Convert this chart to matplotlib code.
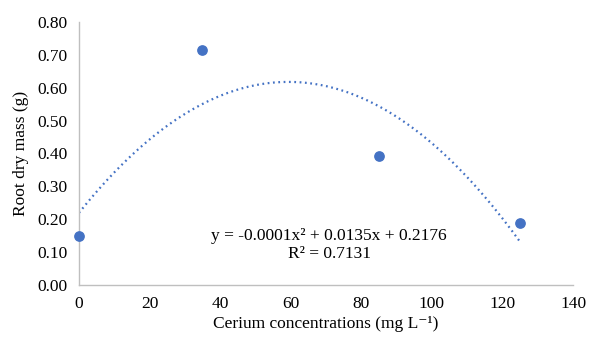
import matplotlib.pyplot as plt
import numpy as np

plt.rcParams['font.family'] = ['Liberation Serif', 'DejaVu Serif']

# cerium concentration (mg/L) and root dry mass (g)
conc = [0, 35, 85, 125]
mass = [0.15, 0.714, 0.392, 0.188]

xticks = [0, 20, 40, 60, 80, 100, 120, 140]
yticks = [0.0, 0.1, 0.2, 0.3, 0.4, 0.5, 0.6, 0.7, 0.8]

blue = '#4472C4'
grey = '#BFBFBF'

fig = plt.figure(figsize=(5.89, 3.38), dpi=100)
ax = fig.add_axes([0.134, 0.157, 0.839, 0.778])

ax.scatter(conc, mass, s=45, color=blue, zorder=3, clip_on=False)

# second order polynomial trendline fitted to the points
coef = np.polyfit(conc, mass, 2)
xs = np.linspace(min(conc), max(conc), 200)
ax.plot(xs, np.polyval(coef, xs), color=blue, lw=1.6, ls=(0, (0.8, 1.6)))

ax.set_xlim(0, 140)
ax.set_ylim(0, 0.8)
ax.set_xticks(xticks)
ax.set_yticks(yticks)
ax.set_yticklabels([f'{v:.2f}' for v in yticks])
ax.tick_params(length=0, labelsize=12.5, pad=8)

for s in ['top', 'right']:
    ax.spines[s].set_visible(False)
for s in ['left', 'bottom']:
    ax.spines[s].set_color(grey)
    ax.spines[s].set_linewidth(1)

ax.set_xlabel('Cerium concentrations (mg L\u207b\u00b9)', fontsize=12.5, labelpad=3)
ax.set_ylabel('Root dry mass (g)', fontsize=12.5, labelpad=6)

ax.text(70.9, 0.122, 'y = -0.0001x\u00b2 + 0.0135x + 0.2176\nR\u00b2 = 0.7131',
        ha='center', va='center', fontsize=12.5, linespacing=1.15)

fig.savefig('out.png', dpi=100)
